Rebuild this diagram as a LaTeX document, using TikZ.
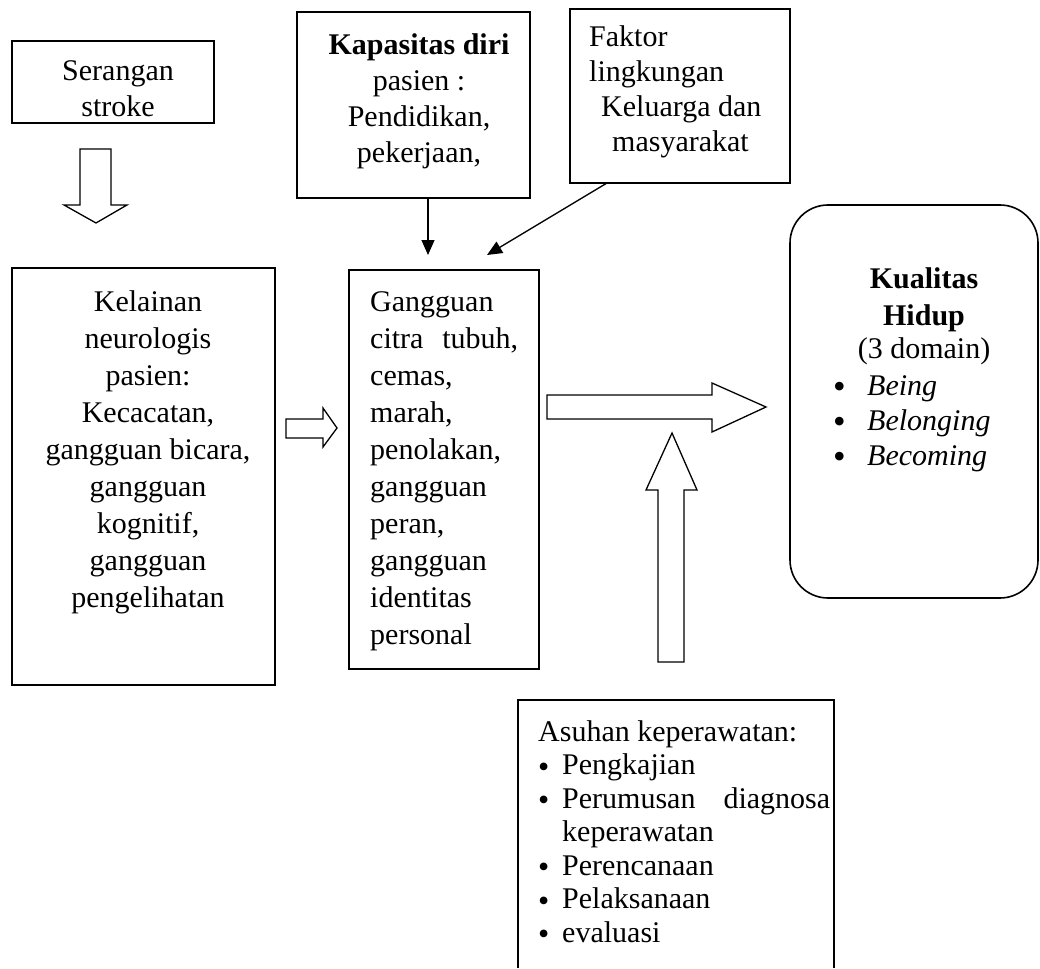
\documentclass[tikz,border=0pt]{standalone}
\usepackage{fontspec}
\setmainfont{Liberation Serif}
\usetikzlibrary{arrows.meta,fit}
\newcommand{\kbul}{\raisebox{-3.5pt}{\fontsize{36}{36}\selectfont\textbullet}}
\newcommand{\abul}{\raisebox{-2.5pt}{\fontsize{32}{32}\selectfont\textbullet}}
\begin{document}
\begin{tikzpicture}[x=1pt,y=-1pt,
  box/.style={draw, line width=1.3pt, inner sep=0pt, outer sep=0pt},
  tx/.style={inner sep=0pt, anchor=base, font=\fontsize{30}{37}\selectfont},
  txl/.style={tx, anchor=base west},
  thinarrow/.style={line width=1.3pt, -{Triangle[length=15pt,width=13pt]}},
  blockarrow/.style={line width=1.3pt, fill=white, line join=miter}
]
\useasboundingbox (0,0) rectangle (1040,968);

% boxes
\node[box, fit={(12,41) (214,123)}] (ser) {};
\node[box, fit={(297,12) (530,198)}] (kap) {};
\node[box, fit={(570,9) (790,183)}] (fak) {};
\node[box, fit={(12,268) (275,685)}] (kel) {};
\node[box, fit={(349,270) (539,669)}] (gan) {};
\node[box, line width=1.6pt, rounded corners=38pt, fit={(790,205) (1038,598)}] (kua) {};
\node[inner sep=0pt, outer sep=0pt, fit={(518,700) (834,968)}] (asu) {};
\draw[line width=1.3pt] (asu.south west) |- (asu.north east) -- (asu.south east);

% texts
\begin{scope}
\clip (ser.north west) rectangle ([yshift=-4pt]ser.south east);
\node[tx, font=\fontsize{30}{36}\selectfont] (sert) at (118,81)
  {\begin{tabular}[t]{@{}c@{}}Serangan\\stroke\end{tabular}};
\end{scope}

\node[tx, font=\fontsize{30}{36}\selectfont] (kapt) at (419,55)
  {\begin{tabular}[t]{@{}c@{}}\textbf{Kapasitas diri}\\pasien :\\Pendidikan,\\pekerjaan,\end{tabular}};

\node[txl, font=\fontsize{30}{35}\selectfont] (fakt) at (589,47)
  {\begin{tabular}[t]{@{}l@{}}Faktor\\lingkungan\\\hspace*{12pt}Keluarga dan\\\hspace*{23pt}masyarakat\end{tabular}};

\node[tx] (kelt) at (148,311)
  {\begin{tabular}[t]{@{}c@{}}Kelainan\\neurologis\\pasien:\\Kecacatan,\\gangguan bicara,\\gangguan\\kognitif,\\gangguan\\pengelihatan\end{tabular}};

\node[txl, font=\fontsize{30}{37.1}\selectfont] (gant) at (370,311)
  {\begin{tabular}[t]{@{}l@{}}Gangguan\\\hbox to 148pt{citra\hfill tubuh,}\\cemas,\\marah,\\penolakan,\\gangguan\\peran,\\gangguan\\identitas\\personal\end{tabular}};

\node[tx, font=\fontsize{30}{37}\selectfont\bfseries] (kuat) at (924,288)
  {\begin{tabular}[t]{@{}c@{}}Kualitas\\Hidup\end{tabular}};
\node[tx] (kuad) at (924,358) {(3 domain)};
\node[txl, font=\fontsize{30}{35}\selectfont] (kual) at (833,395)
  {\begin{tabular}[t]{@{}l@{}}\makebox[34pt][l]{\kbul}\textit{Being}\\\makebox[34pt][l]{\kbul}\textit{Belonging}\\\makebox[34pt][l]{\kbul}\textit{Becoming}\end{tabular}};

\node[txl, font=\fontsize{30}{33.5}\selectfont] (asut) at (538,741)
  {\begin{tabular}[t]{@{}l@{}}Asuhan keperawatan:\\
  \makebox[24pt][l]{\abul}Pengkajian\\
  \makebox[24pt][l]{\abul}\hbox to 268pt{Perumusan\hfill diagnosa}\\
  \hspace*{24pt}keperawatan\\
  \makebox[24pt][l]{\abul}Perencanaan\\
  \makebox[24pt][l]{\abul}Pelaksanaan\\
  \makebox[24pt][l]{\abul}evaluasi\end{tabular}};

% thin arrows
\coordinate (t1) at (428,255);
\coordinate (t2) at (487,255);
\draw[thinarrow] ([xshift=131pt]kap.south west) -- (t1);
\draw[thinarrow] ([xshift=37pt]fak.south west) -- (t2);

% block arrows
\draw[blockarrow] (80,149) -- (111,149) -- (111,205) -- (127,205) -- (96,223)
  -- (64,205) -- (80,205) -- cycle;
\draw[blockarrow] (286,419) -- (323,419) -- (323,408) -- (337,428) -- (323,447)
  -- (323,438) -- (286,438) -- cycle;
\draw[blockarrow] (547,395) -- (712,395) -- (712,383) -- (766,407) -- (712,432)
  -- (712,419) -- (547,419) -- cycle;
\draw[blockarrow] (658,662) -- (658,490) -- (646,490) -- (672,433) -- (697,490)
  -- (684,490) -- (684,662) -- cycle;
\end{tikzpicture}
\end{document}
